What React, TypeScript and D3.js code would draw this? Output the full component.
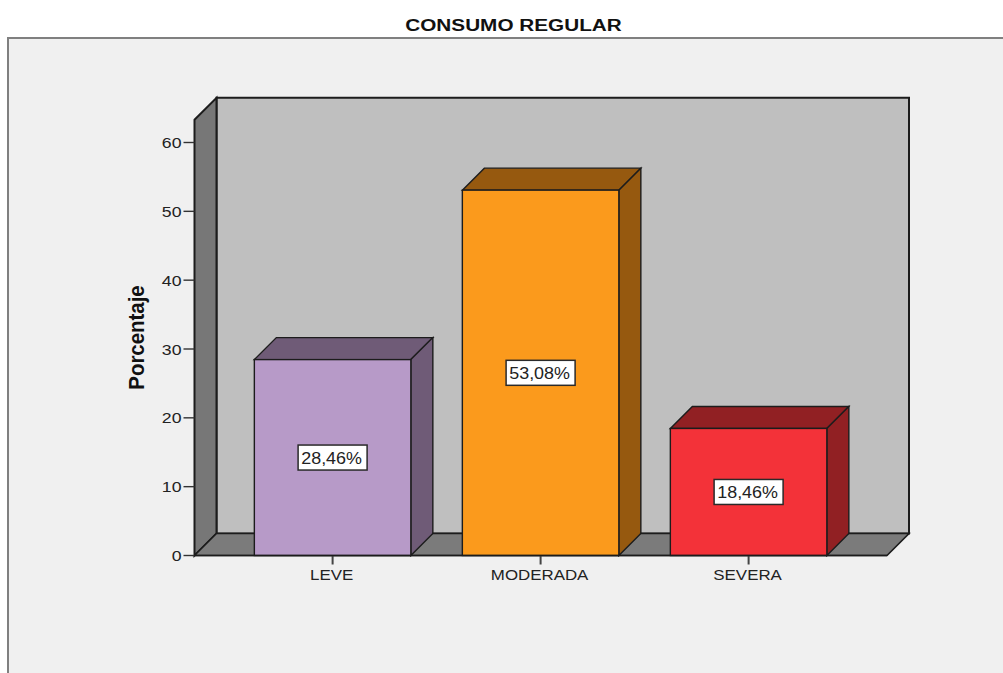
import React from "react";
import * as d3 from "d3";

const categories = ["LEVE", "MODERADA", "SEVERA"];
const values = [28.46, 53.08, 18.46];
const valueLabels = ["28,46%", "53,08%", "18,46%"];
const frontColors = ["#b79ac8", "#fb9a1c", "#f33239"];
const sideColors = ["#6f5b77", "#96590f", "#912023"];
const yTicks = [0, 10, 20, 30, 40, 50, 60];

const W = 1003, H = 673;
const depth = 22;
const font = "'Liberation Sans', Arial, sans-serif";

export default function App() {
  const y = d3.scaleLinear().domain([0, 60]).range([555.5, 142.5]);
  const x = d3.scaleBand<string>().domain(categories).range([228.6, 852.6]).paddingInner(0.2476).paddingOuter(0.1238);
  const left = 194.5, right = 887, base = y(0), top = 119.8;
  const poly = (pts: number[][]) => d3.line()(pts as [number, number][]) + "Z";
  const stroke = "#1c1c1c";
  return (
    <svg width={W} height={H} viewBox={`0 0 ${W} ${H}`} style={{ position: "absolute", left: 0, top: 0, background: "#fff" }}>
      <rect x={8} y={38} width={W + 20} height={H + 20} fill="#f0f0f0" stroke="#808080" strokeWidth={2} />
      <text transform="translate(513.5,31) scale(1.22,1)" textAnchor="middle" fontFamily={font} fontWeight="bold" fontSize={17} fill="#111">CONSUMO REGULAR</text>

      <path d={poly([[left + depth, top - depth], [right + depth, top - depth], [right + depth, base - depth], [left + depth, base - depth]])} fill="#bfbfbf" stroke={stroke} strokeWidth={2} />
      <path d={poly([[left, top], [left + depth, top - depth], [left + depth, base - depth], [left, base]])} fill="#777777" stroke={stroke} strokeWidth={2} />
      <path d={poly([[left, base], [left + depth, base - depth], [right + depth, base - depth], [right, base]])} fill="#7b7b7b" stroke={stroke} strokeWidth={1.6} />

      {yTicks.map(t => (
        <g key={t}>
          <line x1={left - 11} x2={left} y1={y(t)} y2={y(t)} stroke="#333" strokeWidth={1.4} />
          <text transform={`translate(${left - 13},${y(t) + 5.5}) scale(1.14,1)`} textAnchor="end" fontFamily={font} fontSize={15.5} fill="#222">{t}</text>
        </g>
      ))}
      <text transform="translate(144,337.5) rotate(-90) scale(0.95,1)" textAnchor="middle" fontFamily={font} fontWeight="bold" fontSize={21.5} fill="#111">Porcentaje</text>

      {categories.map((c, i) => {
        const x0 = x(c)!, x1 = x0 + x.bandwidth(), yt = y(values[i]);
        const cx = x0 + x.bandwidth() / 2;
        const my = (yt + base) / 2;
        return (
          <g key={c}>
            <path d={poly([[x0, yt], [x0 + depth, yt - depth], [x1 + depth, yt - depth], [x1, yt]])} fill={sideColors[i]} stroke={stroke} strokeWidth={1.4} />
            <path d={poly([[x1, yt], [x1 + depth, yt - depth], [x1 + depth, base - depth], [x1, base]])} fill={sideColors[i]} stroke={stroke} strokeWidth={1.4} />
            <rect x={x0} y={yt} width={x.bandwidth()} height={base - yt} fill={frontColors[i]} stroke={stroke} strokeWidth={1.4} />
            <rect x={cx - 34.5} y={my - 12.5} width={69} height={25} fill="#fff" stroke="#2a2a2a" strokeWidth={1.5} />
            <text transform={`translate(${cx - 1},${my + 6}) scale(1.12,1)`} textAnchor="middle" fontFamily={font} fontSize={16} fill="#222">{valueLabels[i]}</text>
            <line x1={cx} x2={cx} y1={base} y2={base + 9} stroke="#444" strokeWidth={2} />
            <text transform={`translate(${cx - 1},${base + 24.5}) scale(1.09,1)`} textAnchor="middle" fontFamily={font} fontSize={15.5} fill="#222">{c}</text>
          </g>
        );
      })}
      <line x1={left} x2={right} y1={base} y2={base} stroke={stroke} strokeWidth={1.6} />
    </svg>
  );
}
